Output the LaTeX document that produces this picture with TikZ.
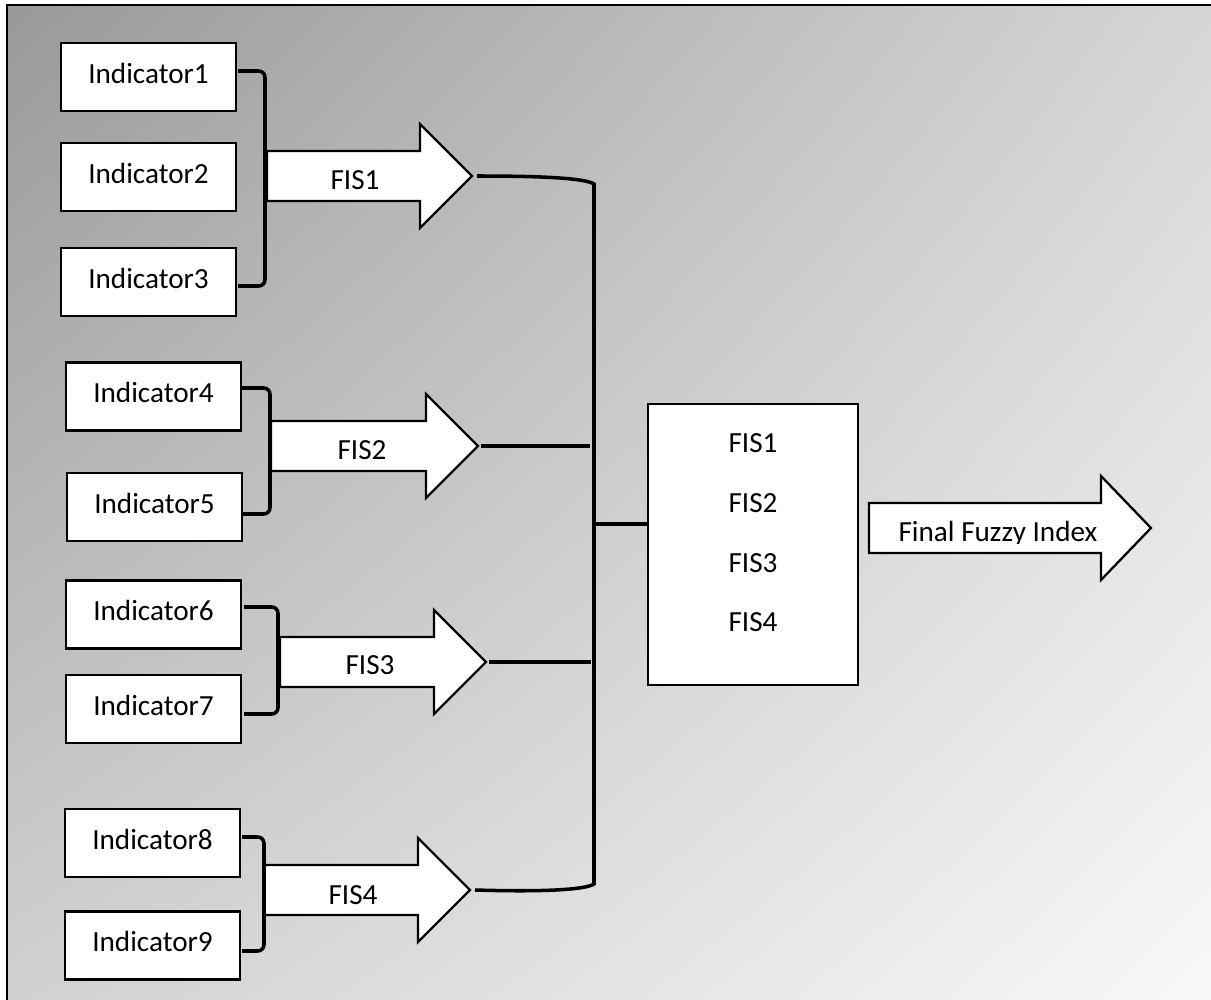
\documentclass[tikz,border=0pt]{standalone}
\usepackage{fontspec}
\setmainfont{Carlito}
\usetikzlibrary{shadings}
\newcommand\diagfont{\fontsize{8.3pt}{9.9pt}\selectfont}
\definecolor{bgTL}{gray}{0.60}
\definecolor{bgTR}{gray}{0.84}
\definecolor{bgBL}{gray}{0.82}
\definecolor{bgBR}{gray}{0.975}
\newcommand\blockarr[5]{%
  \draw[barrow] (#2,#3-25) -- (#4,#3-25) -- (#4,#3-52) -- (#5,#3) -- (#4,#3+52) -- (#4,#3+25) -- (#2,#3+25) -- cycle;
  \coordinate (#1) at (#5,#3);}
\begin{document}
\begin{tikzpicture}[x=0.01cm,y=-0.01cm,
  indbox/.style={draw=black,line width=0.65pt,fill=white,minimum width=1.75cm,minimum height=0.68cm,inner sep=0pt,text depth=0.075cm,font=\diagfont},
  lbl/.style={inner sep=0pt,font=\diagfont},
  barrow/.style={draw=black,line width=0.65pt,fill=white,line join=miter},
  bracket/.style={draw=black,line width=1pt,rounded corners=1.8pt},
  conn/.style={draw=black,line width=1pt}]
\useasboundingbox (0,0) rectangle (1211,1000);
\shade[shading=bilinear interpolation, upper left=bgTL, upper right=bgTR, lower left=bgBL, lower right=bgBR] (7,5) rectangle (1215,1005);
\draw[line width=0.85pt] (7,1005) -- (7,5) -- (1215,5);

% indicator boxes
\node[indbox] (ind1) at (148.5,77) {Indicator1};
\node[indbox] (ind2) at (148.5,177) {Indicator2};
\node[indbox] (ind3) at (148.5,282) {Indicator3};
\node[indbox] (ind4) at (153.5,396.5) {Indicator4};
\node[indbox] (ind5) at (154.5,507) {Indicator5};
\node[indbox] (ind6) at (153.5,614.5) {Indicator6};
\node[indbox] (ind7) at (153.5,709) {Indicator7};
\node[indbox] (ind8) at (152.5,843) {Indicator8};
\node[indbox] (ind9) at (152.5,945.5) {Indicator9};

% block arrows
\blockarr{tip1}{267}{176}{420}{472}
\blockarr{tip2}{271}{446}{426}{478}
\blockarr{tip3}{280}{662}{434}{486}
\blockarr{tip4}{264}{890}{418}{470}
\blockarr{tipF}{869}{528}{1101}{1151}
\node[lbl] (fis1) at (355,180) {FIS1};
\node[lbl] (fis2) at (362,450) {FIS2};
\node[lbl] (fis3) at (370,665) {FIS3};
\node[lbl] (fis4) at (353,895) {FIS4};
\begin{scope}
  \clip (869,502) rectangle (1101,543.5);
  \node[lbl,anchor=base] (ffi) at (998,541) {Final Fuzzy Index};
\end{scope}

% brackets
\draw[bracket] (238,71) -- (265,71) -- (265,286) -- (238,286);
\draw[bracket] (242,388) -- (270,388) -- (270,514) -- (243,514);
\draw[bracket] (244,607) -- (278,607) -- (278,714) -- (244,714);
\draw[bracket] (242,837) -- (264,837) -- (264,951) -- (242,951);

% central box
\node[draw=black,line width=0.65pt,fill=white,minimum width=2.1cm,minimum height=2.81cm,inner sep=0pt] (core) at (753,544.5) {};
\node[lbl] (c1) at (753,443) {FIS1};
\node[lbl] (c2) at (753,503) {FIS2};
\node[lbl] (c3) at (753,563) {FIS3};
\node[lbl] (c4) at (753,622) {FIS4};

% connectors
\coordinate (vtop) at (594,184);
\coordinate (vbot) at (594,884);
\draw[conn] ([xshift=0.05cm]tip1) .. controls (540,176) and (585,178) .. (vtop) -- (vbot) .. controls (585,890) and (540,892) .. ([xshift=0.05cm]tip4);
\draw[conn] ([xshift=0.03cm]tip2) -- (590,446);
\draw[conn] ([xshift=0.03cm]tip3) -- (591,662);
\draw[conn] (595,524) -- (core.west |- 0,524);
\end{tikzpicture}
\end{document}
